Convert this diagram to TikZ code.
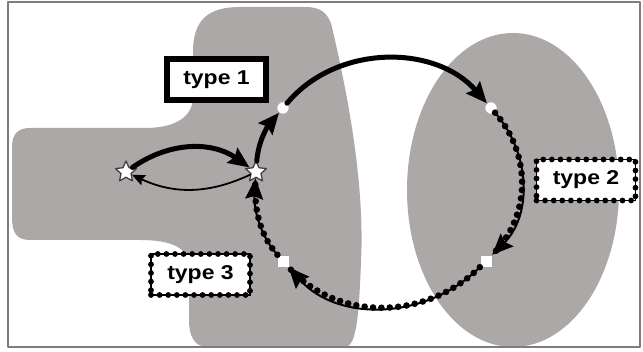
\documentclass[tikz,border=0pt]{standalone}
\usepackage{fontspec}
\newfontfamily\tagfont{Liberation Sans}[FakeStretch=1.15]
\usetikzlibrary{arrows.meta,shapes.geometric}
\definecolor{blobgray}{RGB}{172,168,168}
\definecolor{framegray}{RGB}{125,125,125}

\tikzset{
  tag/.style={draw, fill=white, line join=miter, inner sep=0pt,
    font=\tagfont\bfseries\fontsize{20}{24}\selectfont,
    minimum width=99pt, minimum height=41pt},
  solidtag/.style={tag, line width=6pt},
  beadtag/.style={tag, line width=1.4pt,
    postaction={draw, line width=5.8pt, line cap=round, dash pattern=on 0pt off 8.6pt}},
  site/.style={star, star points=5, star point ratio=2.1, fill=white,
    draw=black!75, line width=1.3pt, minimum size=22pt, inner sep=0pt},
  hub/.style={circle, fill=white, draw=black!35, line width=0.4pt,
    minimum size=12pt, inner sep=0pt},
  port/.style={rectangle, fill=white, draw=black!35, line width=0.4pt,
    minimum size=12pt, inner sep=0pt},
  heavy/.style={line width=5pt},
  fine/.style={line width=1.8pt},
  beadline/.style={line width=2pt,
    preaction={draw, -, line width=6.6pt, line cap=round, dash pattern=on 0pt off 8.4pt}}
}

\begin{document}
\begin{tikzpicture}[x=1pt,y=1pt,line cap=round,line join=round,
    >={Stealth[length=21pt,width=18pt,inset=3pt]}]
  \useasboundingbox (0,0) rectangle (643,352);
  % grey areas, kept inside the frame
  \begin{scope}
    \clip (8,5) rectangle (640,350);
    \fill[blobgray] (193,300) .. controls (193,332) and (208,345) .. (240,345) -- (305,345)
      .. controls (320,345) and (328,340) .. (332,325)
      .. controls (347,260) and (365,170) .. (361,90)
      .. controls (359,40) and (357,5) .. (345,5) -- (208,5)
      .. controls (194,5) and (189,16) .. (189,32) -- (189,85)
      .. controls (189,105) and (170,112) .. (140,112) -- (30,112)
      .. controls (16,112) and (12,120) .. (12,135) -- (12,205)
      .. controls (12,218) and (18,224) .. (30,224) -- (145,224)
      .. controls (175,224) and (193,235) .. (193,255) -- cycle;
    \fill[blobgray] (513,162) ellipse [x radius=106, y radius=157];
  \end{scope}
  \draw[framegray, line width=1.2pt] (8,5) rectangle (640,350);

  % sites on the loop
  \node[site] (sa) at (126,180) {};
  \node[site] (sb) at (256,180) {};
  \node[hub] (h1) at (283,244) {};
  \node[hub] (h2) at (491,244) {};
  \node[port] (p2) at (486,91) {};
  \node[port] (p1) at (283,91) {};

  % exchange between the two stars
  \draw[heavy,->] (sa) to[out=35,in=145] (sb);
  \draw[fine,-{Stealth[length=13pt,width=11pt,inset=2pt]}] (sb) to[out=-155,in=-25] (sa);

  % the loop
  \draw[heavy,->] (sb) to[out=86,in=-130,looseness=0.9] (h1);
  \draw[heavy,->] (h1) to[out=50,in=131] (h2);
  \draw[beadline,->] (h2) to[out=-49,in=45] (p2);
  \draw[beadline,->] (p2) to[out=-135,in=-48] (p1);
  \draw[beadline,->] (p1) to[out=132,in=-94,looseness=0.9] (sb);

  % labels
  \node[solidtag] (t1) at (216.5,272.5) {type 1};
  \node[beadtag] (t2) at (586,172) {type 2};
  \node[beadtag] (t3) at (200.5,77.5) {type 3};
\end{tikzpicture}
\end{document}
